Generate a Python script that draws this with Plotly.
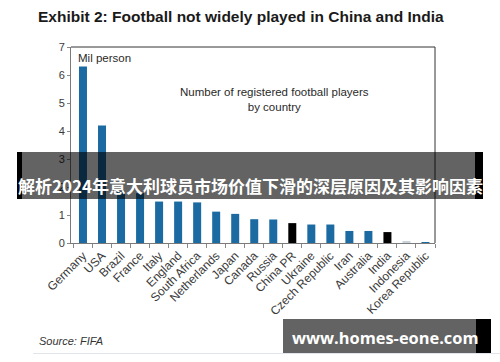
import plotly.graph_objects as go

countries = ["Germany", "USA", "Brazil", "France", "Italy", "England", "South Africa",
             "Netherlands", "Japan", "Canada", "Russia", "China PR", "Ukraine",
             "Czech Republic", "Iran", "Australia", "India", "Indonesia", "Korea Republic"]
players_mil = [6.3, 4.2, 1.85, 1.78, 1.48, 1.48, 1.45, 1.12, 1.04, 0.85, 0.84, 0.71,
               0.66, 0.66, 0.43, 0.43, 0.39, 0.06, 0.02]
highlight = ["China PR", "India"]
y_ticks = [0, 1, 2, 3, 4, 5, 6, 7]

title_text = "Exhibit 2: Football not widely played in China and India"
inner_text = "Number of registered football players<br>by country"
unit_text = "Mil person"
source_text = "Source: FIFA"
banner_text = "解析2024年意大利球员市场价值下滑的深层原因及其影响因素"
site_text = "www.homes-eone.com"

BLUE = "#1b6aa2"
colors = ["#000000" if c in highlight else BLUE for c in countries]
colors[countries.index("Indonesia")] = "#c9d3da"

W, H = 500, 362
L, R, T, B = 71, 435, 47, 243


def px(x):
    return (x - L) / (R - L)


def py(y):
    return (B - y) / (B - T)


fig = go.Figure(go.Bar(x=countries, y=players_mil, marker_color=colors,
                       marker_line_width=0, width=0.42))

FONT = "Liberation Sans, Arial, sans-serif"
fig.update_layout(
    width=W, height=H,
    margin=dict(l=L, r=W - R, t=T, b=H - B, autoexpand=False),
    paper_bgcolor="white", plot_bgcolor="white",
    showlegend=False,
    font=dict(family=FONT, color="#333333"),
    xaxis=dict(type="category", range=[-0.63, 18.5], tickson="boundaries",
               ticks="outside", ticklen=4, tickcolor="#888888", tickangle=-45,
               tickfont=dict(size=12, color="#3a3a3a"),
               showline=True, linecolor="#7a7a7a", linewidth=1, mirror=False,
               showgrid=False, zeroline=False, automargin=False),
    yaxis=dict(range=[0, 7], tickvals=y_ticks, ticks="outside", ticklen=3,
               tickcolor="#888888", tickfont=dict(size=11, color="#3a3a3a"),
               showline=True, linecolor="#7a7a7a", linewidth=1,
               showgrid=False, zeroline=False, automargin=False),
)

shapes = [
    # top and right frame lines
    dict(type="line", xref="paper", yref="paper", x0=0, x1=1, y0=1, y1=1,
         line=dict(color="#333333", width=1)),
    dict(type="line", xref="paper", yref="paper", x0=1, x1=1, y0=0, y1=1,
         line=dict(color="#333333", width=1)),
    # thin footer line
    dict(type="line", xref="paper", yref="paper", x0=px(33), x1=px(500),
         y0=py(353.5), y1=py(353.5), line=dict(color="#dfe5ea", width=1)),
    # banner overlay
    dict(type="rect", xref="paper", yref="paper", x0=px(17), x1=px(483),
         y0=py(199), y1=py(152), fillcolor="rgba(0,0,0,0.61)", line_width=0,
         layer="above"),
    dict(type="rect", xref="paper", yref="paper", x0=px(17), x1=px(22),
         y0=py(199), y1=py(152), fillcolor="#000000", line_width=0, layer="above"),
    dict(type="rect", xref="paper", yref="paper", x0=px(475), x1=px(483),
         y0=py(199), y1=py(152), fillcolor="#000000", line_width=0, layer="above"),
    # site box
    dict(type="rect", xref="paper", yref="paper", x0=px(283), x1=px(476),
         y0=py(353), y1=py(319), fillcolor="rgba(0,0,0,0.61)", line_width=0,
         layer="above"),
    dict(type="rect", xref="paper", yref="paper", x0=px(476), x1=px(491),
         y0=py(353), y1=py(319), fillcolor="#000000", line_width=0, layer="above"),
]


def note(text, x, y, xanchor, size, color, family=FONT, align="left"):
    return dict(text=text, xref="paper", yref="paper", x=px(x), y=py(y),
                xanchor=xanchor, yanchor="middle", align=align, showarrow=False,
                font=dict(size=size, color=color, family=family))


annotations = [
    note("<b>" + title_text + "</b>", 36, 17, "left", 15.5, "#1a1a1a"),
    note(unit_text, 76, 58, "left", 11.5, "#2a2a2a"),
    note(inner_text, 274, 99, "center", 11.5, "#2a2a2a", align="center"),
    note("<i>" + source_text + "</i>", 37, 341, "left", 11, "#333333"),
    note("<b>" + banner_text + "</b>", 250, 185, "center", 17, "#ffffff",
         family="Noto Sans CJK SC"),
    note("<b>" + site_text + "</b>", 385, 337, "center", 16.4, "#ffffff",
         family="Open Sans, DejaVu Sans"),
]

fig.update_layout(shapes=shapes, annotations=annotations)
fig.write_html("out.html", config={"displayModeBar": False},
               post_script="document.body.style.margin='0';document.body.style.overflow='hidden';")
